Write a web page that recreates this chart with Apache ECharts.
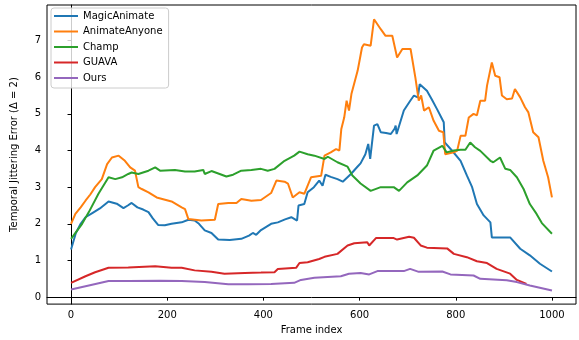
<!DOCTYPE html>
<html>
<head>
<meta charset="utf-8">
<script src="https://cdn.jsdelivr.net/npm/echarts@6/dist/echarts.min.js"></script>
<style>html,body{margin:0;padding:0;background:#fff}#c{width:579px;height:340px}</style>
</head>
<body>
<div id="c"></div>
<script>
var seriesNames = ['MagicAnimate', 'AnimateAnyone', 'Champ', 'GUAVA', 'Ours'];
var xTicks = [0, 200, 400, 600, 800, 1000];
var yTicks = [0, 1, 2, 3, 4, 5, 6, 7];

var maFrames = [0,10,20,30,45,60,78,95,109,118,126,138,150,161,170,181,195,209,230,244,257,266,278,292,306,330,354,370,378,385,395,416,430,445,458,470,473,485,492,505,516,523,529,540,554,565,582,595,602,612,618,622,630,637,644,655,665,673,675,677,692,705,713,721,725,740,750,761,775,777,792,810,823,834,844,858,872,875,913,934,954,975,1000];
var maValues = [1.3,1.75,2.0,2.18,2.3,2.42,2.61,2.55,2.43,2.5,2.57,2.45,2.39,2.32,2.15,1.97,1.96,2.0,2.04,2.11,2.09,2.0,1.82,1.75,1.57,1.56,1.59,1.68,1.75,1.7,1.83,2.0,2.04,2.12,2.18,2.09,2.5,2.54,2.86,3.0,3.18,3.04,3.34,3.28,3.22,3.15,3.36,3.55,3.65,3.9,4.18,3.77,4.68,4.72,4.5,4.48,4.45,4.6,4.68,4.45,5.09,5.35,5.5,5.45,5.81,5.63,5.4,5.13,4.77,4.22,4.0,3.72,3.32,3.0,2.54,2.23,2.04,1.63,1.63,1.32,1.14,0.91,0.7];

var aaFrames = [0,9,20,30,40,50,64,75,85,99,112,123,133,140,147,161,178,209,230,237,244,271,299,306,327,344,354,375,395,416,427,444,451,461,475,485,499,520,527,540,551,558,562,568,573,578,583,596,602,605,609,616,623,630,644,654,668,678,689,706,716,723,728,734,744,754,765,774,778,796,803,810,820,827,837,844,851,861,865,875,882,891,896,906,917,923,934,944,951,961,972,982,992,1000];
var aaValues = [2.0,2.27,2.45,2.63,2.8,3.0,3.22,3.63,3.81,3.86,3.72,3.54,3.45,3.0,2.95,2.86,2.72,2.61,2.45,2.4,2.13,2.09,2.11,2.54,2.57,2.57,2.68,2.63,2.65,2.84,3.18,3.15,3.1,2.72,2.86,2.82,3.27,3.31,3.86,3.95,4.04,4.0,4.59,4.9,5.36,5.09,5.54,6.18,6.6,6.81,6.9,6.88,6.86,7.58,7.31,7.13,7.13,6.54,6.77,6.77,5.99,5.36,5.5,5.09,5.18,4.81,4.54,4.5,3.9,3.95,4.0,4.4,4.4,4.9,5.0,4.96,5.36,5.36,5.77,6.4,6.04,6.0,5.5,5.4,5.42,5.68,5.45,5.18,5.04,4.5,4.36,3.72,3.27,2.72];

var chFrames = [0,23,37,57,78,92,106,119,126,140,161,175,185,216,237,257,275,278,292,309,323,337,354,375,395,409,423,444,464,475,492,506,527,534,554,575,585,602,623,644,671,682,699,720,740,754,772,781,796,810,820,830,840,851,872,878,892,903,913,927,941,954,968,979,1000];
var chValues = [1.59,2.0,2.32,2.82,3.27,3.22,3.27,3.36,3.4,3.36,3.45,3.54,3.45,3.47,3.43,3.43,3.47,3.36,3.44,3.36,3.29,3.34,3.45,3.47,3.5,3.45,3.5,3.72,3.86,3.97,3.9,3.86,3.77,3.83,3.68,3.56,3.32,3.1,2.9,3.0,3.0,2.9,3.13,3.32,3.59,4.0,4.13,3.95,4.0,4.02,4.02,4.22,4.09,3.99,3.72,3.68,3.81,3.5,3.47,3.27,2.95,2.54,2.27,2.02,1.73];

var guFrames = [0,30,50,78,119,175,209,230,257,292,319,361,395,423,430,468,475,492,516,527,554,575,589,616,620,634,671,678,703,713,727,740,782,796,823,844,865,885,913,927,947];
var guValues = [0.39,0.57,0.68,0.8,0.81,0.84,0.8,0.8,0.73,0.69,0.64,0.66,0.67,0.68,0.77,0.8,0.93,0.95,1.04,1.1,1.18,1.41,1.47,1.5,1.41,1.61,1.61,1.57,1.65,1.62,1.41,1.35,1.33,1.18,1.09,0.98,0.93,0.77,0.64,0.47,0.36];

var ouFrames = [0,37,78,119,185,230,278,327,368,416,464,478,506,561,578,602,620,637,692,705,723,772,789,837,851,906,927,954,1000];
var ouValues = [0.21,0.32,0.44,0.44,0.45,0.44,0.41,0.35,0.35,0.36,0.39,0.47,0.53,0.57,0.64,0.66,0.62,0.71,0.71,0.77,0.69,0.7,0.62,0.59,0.5,0.46,0.41,0.32,0.18];

var colors = ['#1f77b4', '#ff7f0e', '#2ca02c', '#d62728', '#9467bd'];

function pairs(xs, ys) { return xs.map(function (x, i) { return [x, ys[i]]; }); }
var allData = [pairs(maFrames, maValues), pairs(aaFrames, aaValues), pairs(chFrames, chValues), pairs(guFrames, guValues), pairs(ouFrames, ouValues)];

var font = 'DejaVu Sans';
var chart = echarts.init(document.getElementById('c'), null, { renderer: 'canvas' });
chart.setOption({
  animation: false,
  color: colors,
  grid: { left: 47, right: 3, top: 5, bottom: 35, show: true, borderColor: '#000', borderWidth: 1, backgroundColor: 'transparent' },
  legend: {
    orient: 'vertical', left: 51, top: 8,
    padding: [2, 6, 4, 3],
    icon: 'rect', itemWidth: 24, itemHeight: 2,
    itemGap: 3.5, itemTextGap: 7,
    backgroundColor: 'rgba(255,255,255,0.8)', borderColor: '#cccccc', borderWidth: 1, borderRadius: 3,
    textStyle: { fontFamily: font, fontSize: 10, color: '#000', lineHeight: 12 },
    data: seriesNames
  },
  xAxis: {
    type: 'value', min: -50, max: 1050,
    name: 'Frame index', nameLocation: 'middle', nameGap: 19,
    nameTextStyle: { fontFamily: font, fontSize: 10, color: '#000' },
    axisLine: { show: true, lineStyle: { color: '#000', width: 1 } },
    axisTick: { show: true, length: 3.5, lineStyle: { color: '#000' }, customValues: xTicks },
    axisLabel: { fontFamily: font, fontSize: 10, color: '#000', margin: 6, customValues: xTicks,
      formatter: function (v) { return String(v); } },
    splitLine: { show: false }
  },
  yAxis: {
    type: 'value', min: -0.19, max: 7.97,
    name: 'Temporal Jittering Error (Δ = 2)', nameLocation: 'middle', nameGap: 28, nameRotate: 90,
    nameTextStyle: { fontFamily: font, fontSize: 10, color: '#000' },
    axisLine: { show: true, lineStyle: { color: '#000', width: 1 } },
    axisTick: { show: true, length: 3.5, lineStyle: { color: '#000' }, customValues: yTicks },
    axisLabel: { fontFamily: font, fontSize: 10, color: '#000', margin: 6, customValues: yTicks,
      formatter: function (v) { return String(v); } },
    splitLine: { show: false }
  },
  series: seriesNames.map(function (n, i) {
    return { name: n, type: 'line', data: allData[i], symbol: 'none', showSymbol: false,
      lineStyle: { width: 2, color: colors[i] }, itemStyle: { color: colors[i] } };
  })
});
</script>
</body>
</html>
